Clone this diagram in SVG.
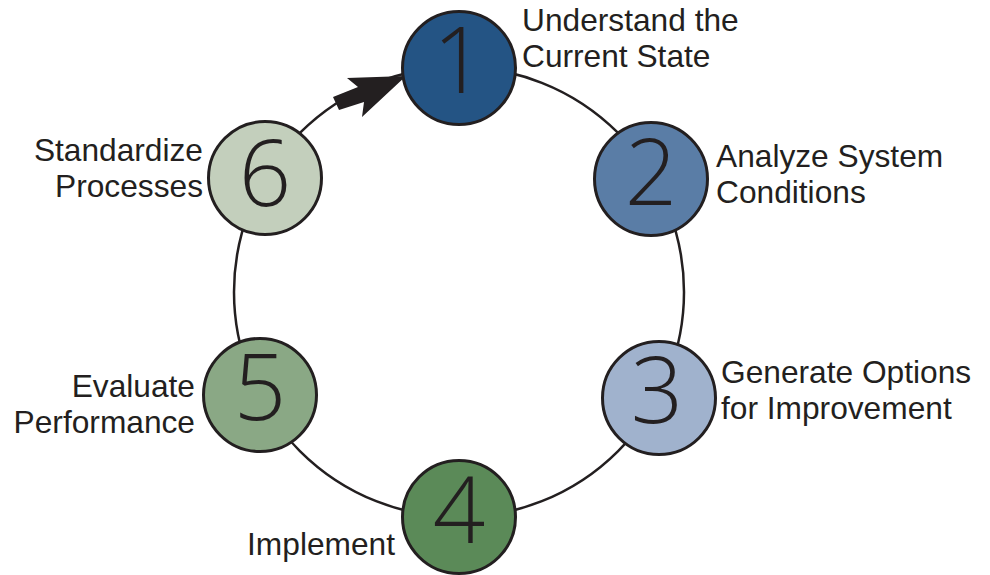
<svg xmlns="http://www.w3.org/2000/svg" width="990" height="575" viewBox="0 0 990 575">
  <style>
    .node { stroke: #231f20; stroke-width: 3; }
    .num { font-family: "Open Sans", "Noto Sans", sans-serif; font-weight: 350; font-size: 92px; fill: #231f20; text-anchor: middle; }
    .lbl { font-family: "Liberation Sans", Arial, sans-serif; font-size: 31.7px; fill: #231f20; }
    .end { text-anchor: end; }
    .ring { fill: none; stroke: #231f20; stroke-width: 2.5; }
  </style>
  <rect width="990" height="575" fill="#ffffff"/>
  <g id="connectors">
    <circle class="ring" cx="459" cy="292" r="225"/>
    <polygon fill="#231f20" points="406,76 347,78 358,87 333,97 339,110 364,102 362,117"/>
  </g>
  <g id="node1">
    <circle class="node" cx="459" cy="68" r="56.5" fill="#245484"/>
    <text class="num" x="459" y="93">1</text>
    <text class="lbl" x="522" y="31">Understand the</text>
    <text class="lbl" x="522" y="67">Current State</text>
  </g>
  <g id="node2">
    <circle class="node" cx="651" cy="179" r="56.5" fill="#5a7da6"/>
    <text class="num" x="651" y="205">2</text>
    <text class="lbl" x="716" y="167">Analyze System</text>
    <text class="lbl" x="716" y="203">Conditions</text>
  </g>
  <g id="node3">
    <circle class="node" cx="659" cy="398" r="56.5" fill="#a0b2cd"/>
    <text class="num" x="657" y="423">3</text>
    <text class="lbl" x="721" y="383">Generate Options</text>
    <text class="lbl" x="721" y="419">for Improvement</text>
  </g>
  <g id="node4">
    <circle class="node" cx="459" cy="517" r="56.5" fill="#5b8a58"/>
    <text class="num" x="459" y="543">4</text>
    <text class="lbl end" x="395" y="555">Implement</text>
  </g>
  <g id="node5">
    <circle class="node" cx="260" cy="395" r="56.5" fill="#8aa885"/>
    <text class="num" x="260" y="420">5</text>
    <text class="lbl end" x="195" y="397">Evaluate</text>
    <text class="lbl end" x="195" y="433">Performance</text>
  </g>
  <g id="node6">
    <circle class="node" cx="265" cy="178" r="56.5" fill="#c3cfbc"/>
    <text class="num" x="265" y="206">6</text>
    <text class="lbl end" x="203" y="161">Standardize</text>
    <text class="lbl end" x="203" y="197">Processes</text>
  </g>
</svg>
